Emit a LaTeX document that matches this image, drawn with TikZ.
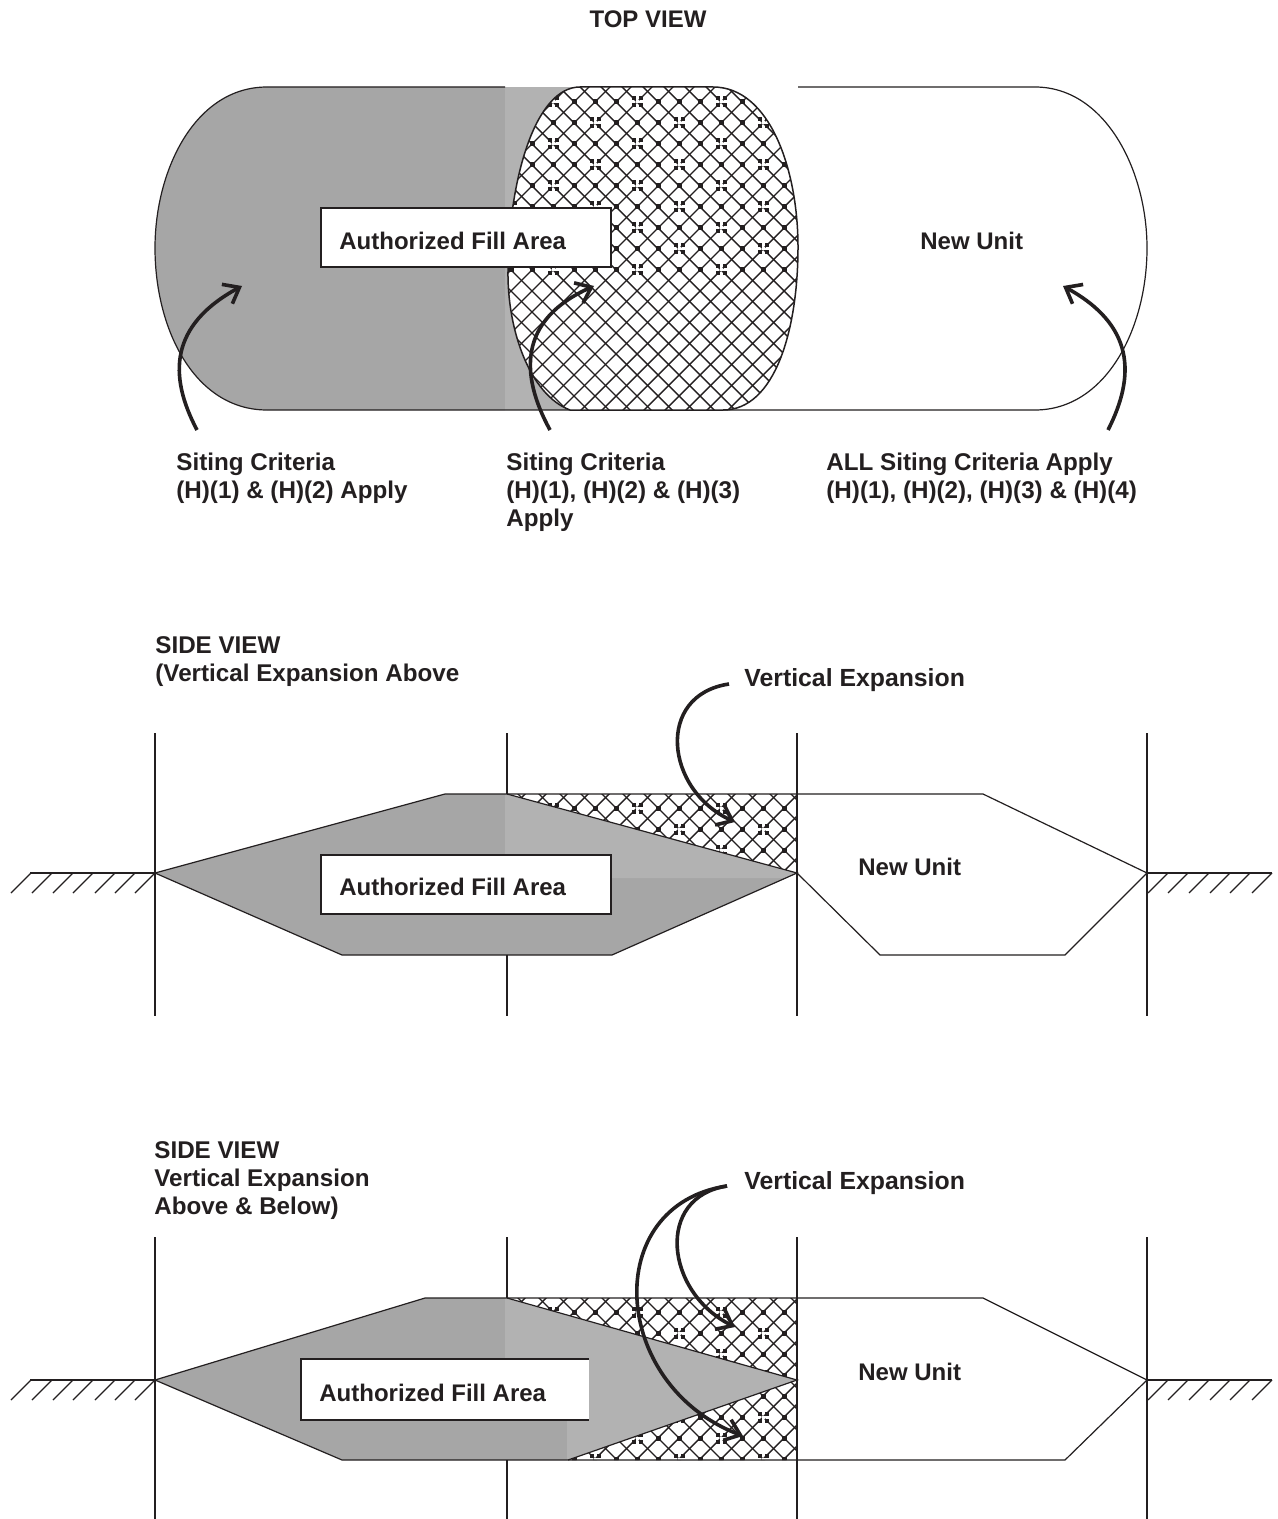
\documentclass[tikz,border=0pt]{standalone}
\usepackage{fontspec}
\setmainfont{Liberation Sans}
\usetikzlibrary{arrows.meta}
\definecolor{darkg}{HTML}{A6A6A6}
\definecolor{lightg}{HTML}{B2B2B2}
\definecolor{ink}{HTML}{231F20}
\tikzset{
  outline/.style={draw=ink,line width=0.6pt},
  guide/.style={draw=ink,line width=0.6pt},
  bent/.style={draw=ink,line width=1.8pt,-{Straight Barb[length=7pt,width=11pt,line width=1.8pt]}},
  lbl/.style={anchor=north west,inner sep=0pt,align=left,font=\bfseries\fontsize{12.1}{14}\selectfont,text=ink},
  boxlbl/.style={anchor=west,inner sep=0pt,font=\bfseries\fontsize{12}{14}\selectfont,text=ink},
  explbl/.style={anchor=west,inner sep=0pt,font=\bfseries\fontsize{12.4}{14}\selectfont,text=ink},
  fillbox/.style={fill=white,draw=none},
  boxedge/.style={draw=ink,line width=0.6pt},
}
% diagonal lattice in the current clip; #1 is the vertical phase
\newcommand{\lattice}[1]{%
  \foreach \d in {-18,...,34}{%
    \draw[ink,line width=0.7pt] (490,#1+\d*21) -- (820,#1+\d*21+330);
    \draw[ink,line width=0.7pt] (490,#1+\d*21) -- (820,#1+\d*21-330);
  }}
% dots on lattice crossings between rows #2 and #3
\newcommand{\latticedots}[3]{%
  \foreach \i in {0,...,15}{%
    \foreach \j in {#2,...,#3}{%
      \pgfmathtruncatemacro{\odd}{mod(\i+2*\j,4)}%
      \ifnum\odd=1
        \foreach \sx in {-3.5,3.5}{\foreach \sy in {-3.5,3.5}{%
          \fill[ink] (490+\i*21+\sx-2,#1+\j*21+\sy-2) rectangle ++(4,4);}}%
        \fill[white] (490+\i*21-1.5,#1+\j*21-1.5) rectangle ++(3,3);
      \else
        \fill[ink] (490+\i*21-2.5,#1+\j*21-2.5) rectangle ++(5,5);
      \fi
    }}}
\begin{document}
\begin{tikzpicture}[x=0.5pt,y=-0.5pt]
\useasboundingbox (0,0) rectangle (1278,1519);
\fill[white] (0,0) rectangle (1278,1519);

% ---------- TOP VIEW ----------
\node[inner sep=0pt,font=\bfseries\fontsize{12}{14}\selectfont,text=ink] (title) at (648,19) {TOP VIEW};
\fill[darkg] (505,87) -- (267,87) .. controls (195,87) and (155,170) .. (155,248)
  .. controls (155,330) and (195,410) .. (267,410) -- (505,410) -- cycle;
\fill[lightg] (505,87) rectangle (600,410);
\fill[white] (580,87) rectangle (798,412);
\draw[outline] (505,87) -- (267,87) .. controls (195,87) and (155,170) .. (155,248)
  .. controls (155,330) and (195,410) .. (267,410) -- (585,410);
\draw[outline] (798,87) -- (1035,87) .. controls (1105,87) and (1147,170) .. (1147,248)
  .. controls (1147,330) and (1105,410) .. (1035,410) -- (722,410);
\begin{scope}
  \clip (580,87) -- (713,87) .. controls (770,87) and (798,170) .. (798,247)
    .. controls (798,330) and (775,410) .. (723,410) -- (570,410)
    .. controls (530,395) and (507,330) .. (508,270) .. controls (509,180) and (535,87) .. (580,87) -- cycle;
  \fill[white] (500,80) rectangle (800,415);
  \lattice{81}
  \latticedots{81}{0}{9}
\end{scope}
\draw[outline,line width=0.75pt] (580,87) -- (713,87) .. controls (770,87) and (798,170) .. (798,247)
    .. controls (798,330) and (775,410) .. (723,410) -- (570,410)
    .. controls (530,395) and (507,330) .. (508,270) .. controls (509,180) and (535,87) .. (580,87) -- cycle;
\filldraw[fillbox,boxedge] (321,208) rectangle (611,267);
\node[boxlbl] (fa1) at (339,241) {Authorized Fill Area};
\node[boxlbl] (nu1) at (920,241) {New Unit};

\coordinate (a1s) at (197,430); \coordinate (a1e) at (242,286);
\coordinate (a2s) at (550,430); \coordinate (a2e) at (594,286);
\coordinate (a3s) at (1108,430); \coordinate (a3e) at (1063,286);
\draw[bent] (a1s) .. controls (168,375) and (170,325) .. (a1e);
\draw[bent] (a2s) .. controls (520,375) and (518,320) .. (a2e);
\draw[bent] (a3s) .. controls (1136,375) and (1134,325) .. (a3e);

\node[lbl] (c1) at (176,453) {Siting Criteria\\(H)(1) \& (H)(2) Apply};
\node[lbl] (c2) at (506,453) {Siting Criteria\\(H)(1), (H)(2) \& (H)(3)\\Apply};
\node[lbl] (c3) at (826,453) {ALL Siting Criteria Apply\\(H)(1), (H)(2), (H)(3) \& (H)(4)};

% ---------- SIDE VIEW 1 ----------
\node[lbl] (s1) at (155,636) {SIDE VIEW\\(Vertical Expansion Above};
\node[explbl] (v1) at (744,680) {Vertical Expansion};
\fill[darkg] (155,873) -- (445,794) -- (505,794) -- (505,878) -- (786,878) -- (612,955) -- (342,955) -- cycle;
\fill[lightg] (505,794) -- (797,873) -- (786,878) -- (505,878) -- cycle;
\begin{scope}
  \clip (507,794) -- (797,794) -- (797,873) -- cycle;
  \fill[white] (500,790) rectangle (800,880);
  \lattice{787}
  \latticedots{787}{0}{4}
\end{scope}
\draw[outline] (155,873) -- (445,794) -- (983,794) -- (1147,873) -- (1065,955) -- (880,955) -- (797,873);
\draw[outline] (507,794) -- (797,873) -- (612,955) -- (342,955) -- (155,873);
\foreach \x in {155,797,1147}{\draw[guide] (\x,733) -- (\x,1016);}
\draw[guide] (507,733) -- (507,794) (507,955) -- (507,1016);
\filldraw[fillbox,boxedge] (321,855) rectangle (611,914);
\node[boxlbl] (fa2) at (339,887) {Authorized Fill Area};
\node[boxlbl] (nu2) at (858,867) {New Unit};

\coordinate (g1l) at (30,873); \coordinate (g1m) at (155,873);
\coordinate (g1r) at (1147,873); \coordinate (g1e) at (1272,873);
\draw[guide] (g1l) -- (g1m) (g1r) -- (g1e);
\foreach \x in {31,52,73,93,115,135,155}{\draw[guide] (\x,873) -- (\x-20,893);}
\foreach \x in {1168,1188,1209,1230,1250,1272}{\draw[guide] (\x,873) -- (\x-20,893);}

\coordinate (b1s) at (729,684); \coordinate (b1e) at (735,822);
\draw[bent] (b1s) .. controls (655,695) and (665,790) .. (b1e);

% ---------- SIDE VIEW 2 ----------
\node[lbl] (s2) at (154,1141) {SIDE VIEW\\Vertical Expansion\\Above \& Below)};
\node[explbl] (v2) at (744,1183) {Vertical Expansion};
\fill[darkg] (155,1380) -- (425,1298) -- (505,1298) -- (505,1359) -- (567,1420) -- (567,1460) -- (342,1460) -- cycle;
\fill[lightg] (505,1298) -- (797,1380) -- (567,1460) -- (567,1420) -- (589,1420) -- (589,1359) -- (505,1359) -- cycle;
\begin{scope}
  \clip (507,1298) -- (797,1298) -- (797,1380) -- cycle;
  \fill[white] (500,1290) rectangle (800,1385);
  \lattice{1291}
  \latticedots{1291}{0}{4}
\end{scope}
\begin{scope}
  \clip (568,1460) -- (797,1380) -- (797,1460) -- cycle;
  \fill[white] (560,1375) rectangle (800,1465);
  \lattice{1291}
  \latticedots{1291}{4}{8}
\end{scope}
\draw[outline] (155,1380) -- (425,1298) -- (983,1298) -- (1147,1380) -- (1065,1460) -- (342,1460) -- cycle;
\draw[outline] (507,1298) -- (797,1380) -- (568,1460);
\foreach \x in {155,797,1147}{\draw[guide] (\x,1237) -- (\x,1519);}
\draw[guide] (507,1237) -- (507,1298) (507,1460) -- (507,1519);
\fill[fillbox] (301,1359) rectangle (589,1420);
\draw[boxedge] (589,1359) -- (301,1359) -- (301,1420) -- (589,1420);
\node[boxlbl] (fa3) at (319,1393) {Authorized Fill Area};
\node[boxlbl] (nu3) at (858,1372) {New Unit};

\coordinate (g2l) at (30,1380); \coordinate (g2m) at (155,1380);
\coordinate (g2r) at (1147,1380); \coordinate (g2e) at (1272,1380);
\draw[guide] (g2l) -- (g2m) (g2r) -- (g2e);
\foreach \x in {31,52,73,93,115,135,155}{\draw[guide] (\x,1380) -- (\x-20,1400);}
\foreach \x in {1168,1188,1209,1230,1250,1272}{\draw[guide] (\x,1380) -- (\x-20,1400);}

\coordinate (b2s) at (727,1186); \coordinate (b2e) at (735,1327);
\coordinate (b3e) at (743,1436);
\draw[bent] (b2s) .. controls (655,1197) and (665,1292) .. (b2e);
\draw[bent] (b2s) .. controls (600,1205) and (610,1385) .. (b3e);
\end{tikzpicture}
\end{document}
